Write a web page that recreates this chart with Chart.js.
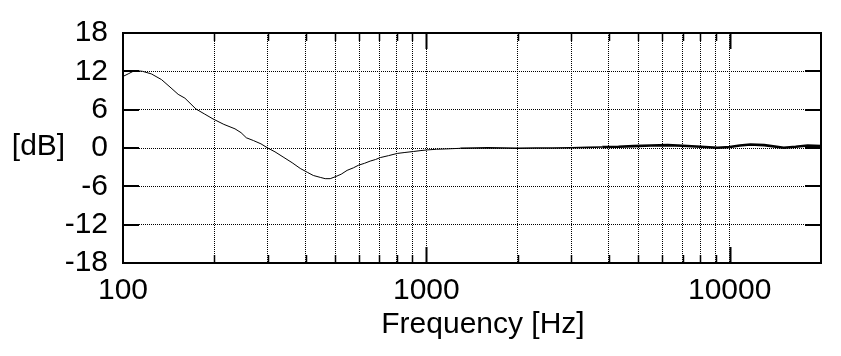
<!DOCTYPE html>
<html>
<head>
<meta charset="utf-8">
<script src="https://cdn.jsdelivr.net/npm/chart.js@4/dist/chart.umd.min.js"></script>
<style>
  html, body { margin: 0; padding: 0; background: #fff; }
  #wrap { width: 841px; height: 356px; }
</style>
</head>
<body>
<div id="wrap"><canvas id="c" width="841" height="356"></canvas></div>
<script>
// ---- data ----
const freqHz = [100,104,108,111,116,124,134,144,152,160,174,186,198,215,234,245,255,269,285,300,317,337,361,384,405,424,447,464,482,501,524,548,575,597,625,653,680,705,750,802,850,906,960,1007,1080,1155,1294,1450,1590,1800,2000,2300,2600,3000,3400,3800,4300,4820,5500,6240,7000,8020,9120,10000,10800,11700,13000,15070,16500,18070,20000];
const levelDb = [11.2,11.6,12.0,12.1,12.0,11.6,10.7,9.4,8.4,7.8,6.1,5.3,4.55,3.7,3.0,2.4,1.6,1.17,0.65,0.0,-0.6,-1.4,-2.3,-3.2,-3.8,-4.3,-4.6,-4.8,-4.8,-4.5,-4.1,-3.5,-3.1,-2.7,-2.4,-2.05,-1.8,-1.5,-1.2,-0.85,-0.7,-0.55,-0.4,-0.3,-0.2,-0.15,-0.05,0.0,0.05,0.0,-0.05,0.0,0.0,0.05,0.1,0.15,0.2,0.3,0.4,0.45,0.35,0.2,0.05,0.15,0.4,0.55,0.45,0.05,0.2,0.4,0.3];
const xGridTicks = [100,200,300,400,500,600,700,800,900,1000,2000,3000,4000,5000,6000,7000,8000,9000,10000,20000];
const xLabelTicks = [100,1000,10000];
const yTicks = [-18,-12,-6,0,6,12,18];
const xTitle = 'Frequency [Hz]';
const yTitle = '[dB]';

const FONT = "'Liberation Sans', Arial, sans-serif";

const framePlugin = {
  id: 'frame',
  afterDraw(chart) {
    const {ctx, chartArea: a, scales} = chart;
    const xs = scales.x, ys = scales.y;
    ctx.save();
    ctx.strokeStyle = '#000';
    // y tick marks (inward, left and right)
    ctx.lineWidth = 2;
    yTicks.forEach(v => {
      const y = Math.round(ys.getPixelForValue(v));
      ctx.beginPath();
      ctx.moveTo(a.left, y); ctx.lineTo(a.left + 16, y);
      ctx.moveTo(a.right, y); ctx.lineTo(a.right - 16, y);
      ctx.stroke();
    });
    // x tick marks (inward, top and bottom)
    xGridTicks.forEach(v => {
      if (v === 100 || v === 20000) return;
      const x = Math.round(xs.getPixelForValue(v)) + 0.5;
      const major = xLabelTicks.includes(v);
      const len = major ? 16 : 8;
      ctx.lineWidth = major ? 2 : 1.5;
      ctx.beginPath();
      ctx.moveTo(x, a.top); ctx.lineTo(x, a.top + len);
      ctx.moveTo(x, a.bottom); ctx.lineTo(x, a.bottom - len);
      ctx.stroke();
    });
    // frame
    ctx.lineWidth = 2;
    ctx.strokeRect(a.left, a.top, a.right - a.left, a.bottom - a.top);
    // titles
    ctx.fillStyle = '#000';
    ctx.font = '30px ' + FONT;
    ctx.textBaseline = 'middle';
    ctx.textAlign = 'center';
    ctx.fillText(yTitle, 38.5, 147);
    ctx.fillText(xTitle, 483, 325);
    ctx.restore();
  }
};

new Chart(document.getElementById('c'), {
  type: 'line',
  data: {
    datasets: [{
      data: freqHz.map((f, i) => ({x: f, y: levelDb[i]})),
      borderColor: '#000',
      borderWidth: 1,
      pointRadius: 0,
      tension: 0,
      fill: false,
      segment: {
        borderWidth: ctx => {
          const f = ctx.p0.parsed.x;
          return f < 1200 ? 1 : (f < 3500 ? 1.6 : 2.6);
        }
      }
    }]
  },
  options: {
    responsive: false,
    animation: false,
    devicePixelRatio: 1,
    layout: { padding: { top: 32, right: 20, left: 0, bottom: 0 } },
    plugins: { legend: { display: false }, tooltip: { enabled: false } },
    scales: {
      x: {
        type: 'logarithmic',
        min: 100, max: 20000,
        afterBuildTicks: s => { s.ticks = xGridTicks.map(v => ({value: v})); },
        afterFit: s => { s.height = 93; },
        grid: { color: '#000', lineWidth: 1, drawTicks: false },
        border: { display: false, dash: [1, 1] },
        ticks: {
          autoSkip: false, maxRotation: 0, minRotation: 0, padding: 10,
          color: '#000', font: { family: FONT, size: 30 },
          callback: v => xLabelTicks.includes(v) ? String(v) : ''
        }
      },
      y: {
        type: 'linear',
        min: -18, max: 18,
        afterBuildTicks: s => { s.ticks = yTicks.map(v => ({value: v})); },
        afterFit: s => { s.width = 123; },
        grid: { color: '#000', lineWidth: 1, drawTicks: false },
        border: { display: false, dash: [1, 1] },
        ticks: {
          autoSkip: false,
          padding: 15,
          color: '#000', font: { family: FONT, size: 30 },
          callback: v => String(v)
        }
      }
    }
  },
  plugins: [framePlugin]
});
</script>
</body>
</html>
